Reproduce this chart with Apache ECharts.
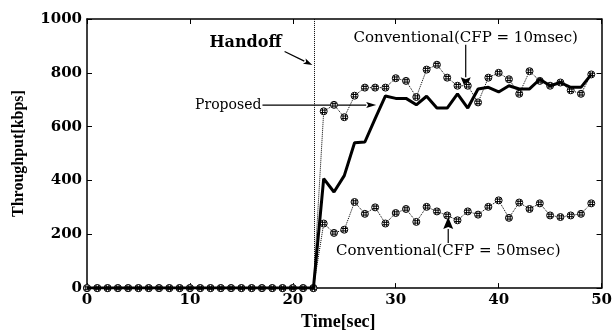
<!DOCTYPE html>
<html>
<head>
<meta charset="utf-8">
<script src="https://cdn.jsdelivr.net/npm/echarts@6/dist/echarts.min.js"></script>
<style>
  html, body { margin: 0; padding: 0; background: #fff; }
  #chart { width: 615px; height: 336px; }
</style>
</head>
<body>
<div id="chart"></div>
<script>
// time axis (sec)
const timeSec = [0,1,2,3,4,5,6,7,8,9,10,11,12,13,14,15,16,17,18,19,20,21,22,23,24,25,26,27,28,29,30,31,32,33,34,35,36,37,38,39,40,41,42,43,44,45,46,47,48,49];
// throughput [kbps]
const proposed = [0,0,0,0,0,0,0,0,0,0,0,0,0,0,0,0,0,0,0,0,0,0,0,407,357,418,540,543,630,714,705,705,681,713,669,669,722,669,740,746,729,752,740,740,776,752,764,746,746,794];
const conv10 = [0,0,0,0,0,0,0,0,0,0,0,0,0,0,0,0,0,0,0,0,0,0,0,657,681,635,715,745,745,745,780,770,710,812,830,782,752,752,690,782,800,776,722,806,770,752,764,735,722,794];
const conv50 = [0,0,0,0,0,0,0,0,0,0,0,0,0,0,0,0,0,0,0,0,0,0,0,240,205,217,320,276,300,240,279,294,246,302,285,270,252,285,273,302,326,261,318,294,315,270,264,270,276,315];
const handoffTime = 22.1;

const serif = 'DejaVu Serif';
const timesBold = 'Liberation Serif';
const pairs = arr => timeSec.map((t, i) => [t, arr[i]]);
// hatched circle marker
const hatch = 'path://M0,5A5,5 0 1,0 10,5A5,5 0 1,0 0,5ZM3.3,1L3.3,9M6.7,1L6.7,9M1,3.3L9,3.3M1,6.7L9,6.7';

const chart = echarts.init(document.getElementById('chart'));

const frame = { show: true, onZero: false, lineStyle: { color: '#000', width: 1.5 } };
const tick = { show: true, inside: true, length: 5, lineStyle: { color: '#000', width: 1 } };
const tickLabel = { color: '#000', fontFamily: serif, fontSize: 15, fontWeight: 'bold', formatter: v => String(v) };

const markerSeries = (data) => ({
  type: 'line',
  data: pairs(data),
  symbol: hatch,
  symbolSize: 7,
  showAllSymbol: true,
  lineStyle: { color: '#000', width: 1, type: 'dotted' },
  itemStyle: { color: '#fff', borderColor: '#000', borderWidth: 1 },
  z: 2
});

chart.setOption({
  animation: false,
  backgroundColor: '#fff',
  grid: { left: 87, right: 12, top: 19, bottom: 37 },
  xAxis: [
    {
      type: 'value', min: 0, max: 50, interval: 10,
      name: 'Time[sec]', nameLocation: 'middle', nameGap: 17,
      nameTextStyle: { color: '#000', fontFamily: timesBold, fontWeight: 'bold', fontSize: 18, padding: [0, 12, 0, 0] },
      axisLine: frame, axisTick: tick, splitLine: { show: false },
      axisLabel: Object.assign({ margin: 5 }, tickLabel)
    },
    {
      type: 'value', min: 0, max: 50, interval: 10, position: 'top',
      axisLine: frame, axisTick: tick, axisLabel: { show: false }, splitLine: { show: false }
    }
  ],
  yAxis: [
    {
      type: 'value', min: 0, max: 1000, interval: 200,
      name: 'Throughput[kbps]', nameLocation: 'middle', nameGap: 60,
      nameTextStyle: { color: '#000', fontFamily: timesBold, fontWeight: 'bold', fontSize: 16 },
      axisLine: frame, axisTick: tick, splitLine: { show: false },
      axisLabel: Object.assign({ margin: 5 }, tickLabel)
    },
    {
      type: 'value', min: 0, max: 1000, interval: 200, position: 'right',
      axisLine: frame, axisTick: tick, axisLabel: { show: false }, splitLine: { show: false }
    }
  ],
  series: [
    markerSeries(conv50),
    markerSeries(conv10),
    {
      type: 'line',
      data: pairs(proposed),
      showSymbol: false,
      lineStyle: { color: '#000', width: 3 },
      z: 3,
      markLine: {
        silent: true, symbol: 'none', label: { show: false },
        lineStyle: { color: '#000', type: 'dotted', width: 1 },
        data: [{ xAxis: handoffTime }]
      }
    }
  ]
});

// annotations, anchored in data coordinates
const notes = [
  { text: 'Handoff', at: [15.4, 911], align: 'center', bold: true, size: 16 },
  { text: 'Proposed', at: [16.95, 679], align: 'right', size: 14 },
  { text: 'Conventional(CFP = 10msec)', at: [36.8, 930], align: 'center', size: 15 },
  { text: 'Conventional(CFP = 50msec)', at: [35.1, 139], align: 'center', size: 15 }
];
const arrows = [
  { from: [19.2, 879], to: [21.9, 829], head: 9, w: 3 },
  { from: [17.05, 680], to: [28.1, 680], head: 10, w: 3 },
  { from: [36.8, 904], to: [36.8, 739], head: 12, w: 5 },
  { from: [35.1, 168], to: [35.1, 264], head: 12, w: 5 }
];

const px = p => chart.convertToPixel({ xAxisIndex: 0, yAxisIndex: 0 }, p);
const graphics = [];
notes.forEach(n => {
  const p = px(n.at);
  graphics.push({
    type: 'text', x: p[0], y: p[1], silent: true,
    style: {
      text: n.text, fill: '#000', align: n.align, verticalAlign: 'middle',
      font: (n.bold ? 'bold ' : '') + n.size + 'px "' + serif + '"'
    }
  });
});
arrows.forEach(a => {
  const p0 = px(a.from), p1 = px(a.to);
  const dx = p1[0] - p0[0], dy = p1[1] - p0[1];
  const len = Math.sqrt(dx * dx + dy * dy);
  const ux = dx / len, uy = dy / len;
  const bx = p1[0] - ux * a.head, by = p1[1] - uy * a.head;
  graphics.push({
    type: 'line', silent: true,
    shape: { x1: p0[0], y1: p0[1], x2: bx, y2: by },
    style: { stroke: '#000', lineWidth: 1.2 }
  });
  graphics.push({
    type: 'polygon', silent: true,
    shape: { points: [p1, [bx - uy * a.w, by + ux * a.w], [bx + ux * 2, by + uy * 2], [bx + uy * a.w, by - ux * a.w]] },
    style: { fill: '#000' }
  });
});
chart.setOption({ graphic: graphics });

window.addEventListener('resize', () => { chart.resize(); });
</script>
</body>
</html>
